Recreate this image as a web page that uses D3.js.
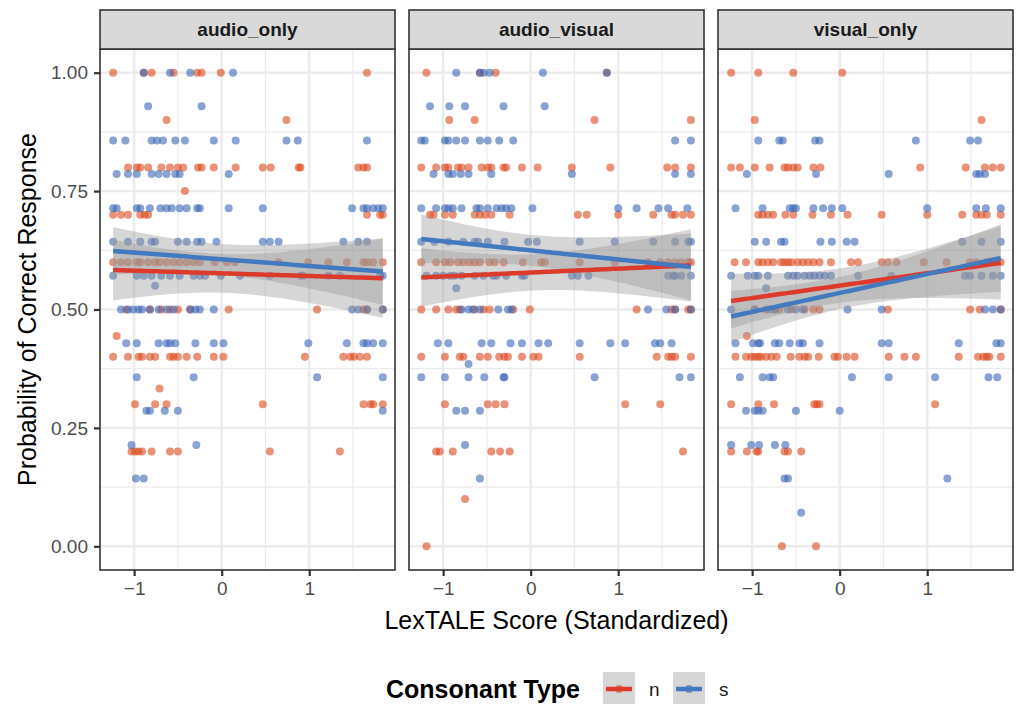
<!DOCTYPE html>
<html>
<head>
<meta charset="utf-8">
<script src="https://cdn.jsdelivr.net/npm/d3@7"></script>
<style>
  body { margin: 0; background: #fff; }
  svg { font-family: "Liberation Sans", Arial, Helvetica, sans-serif; }
</style>
</head>
<body>
<div class="chart"></div>
<script>
// Facets, groups and tick labels
const panels = ["audio_only", "audio_visual", "visual_only"];
const groups = ["n", "s"];
const xTicks = [-1, 0, 1];
const xMinor = [-0.5, 0.5, 1.5];
const yTicks = [0, 0.25, 0.5, 0.75, 1];
const yMinor = [0.125, 0.375, 0.625, 0.875];

// Each row: [proportion correct, [LexTALE scores of the participants at that value]]
const audioOnlyN = [
  [1.0, [-1.24, -0.89, -0.80, -0.55, -0.28, -0.23, -0.01, 1.66]],
  [0.9, [-0.63, 0.74]],
  [0.8, [-1.07, -0.97, -0.93, -0.84, -0.69, -0.59, -0.50, -0.44, -0.27, -0.23, -0.09, 0.16, 0.47, 0.56, 0.88, 0.90, 1.56, 1.62, 1.66]],
  [0.75, [-0.42]],
  [0.7, [-1.24, -1.15, -1.07, -0.93, -0.88, -0.84, 1.66, 1.81, 1.84]],
  [0.6, [-1.24, -1.15, -1.07, -0.97, -0.93, -0.84, -0.76, -0.71, -0.63, -0.55, -0.48, -0.40, -0.32, -0.25, -0.08, 0.06, 0.15, 0.65, 0.99, 1.22, 1.43, 1.62, 1.66, 1.73, 1.84]],
  [0.5, [-1.09, -0.82, -0.69, -0.59, -0.50, -0.36, 0.08, 1.09, 1.62, 1.66, 1.84]],
  [0.444, [-1.20]],
  [0.4, [-1.24, -1.07, -0.95, -0.91, -0.82, -0.76, -0.59, -0.55, -0.50, -0.40, -0.28, -0.09, 0.02, 0.95, 1.39, 1.47, 1.51, 1.58, 1.66]],
  [0.333, [-0.71]],
  [0.3, [-0.99, -0.76, -0.63, 0.47, 1.62, 1.70, 1.73, 1.84]],
  [0.2, [-1.03, -0.99, -0.95, -0.91, -0.80, -0.59, -0.50, 0.55, 1.35]]
];
const audioOnlyS = [
  [1.0, [-0.89, -0.59, -0.36, 0.13]],
  [0.929, [-0.84, -0.23]],
  [0.857, [-1.24, -1.10, -0.80, -0.74, -0.67, -0.53, -0.42, -0.09, 0.16, 0.74, 0.87, 1.66]],
  [0.786, [-1.20, -1.07, -0.97, -0.80, -0.72, -0.63, -0.53, -0.48, 0.08]],
  [0.714, [-1.24, -1.20, -0.97, -0.93, -0.82, -0.70, -0.63, -0.57, -0.48, -0.40, -0.28, -0.25, 0.08, 0.47, 1.49, 1.62, 1.66, 1.73, 1.79, 1.84]],
  [0.643, [-1.24, -1.07, -0.93, -0.80, -0.76, -0.50, -0.40, -0.28, -0.23, -0.06, 0.47, 0.55, 0.65, 1.39, 1.56, 1.66]],
  [0.571, [-1.24, -0.97, -0.89, -0.80, -0.69, -0.59, -0.48, -0.32, -0.25, -0.19, -0.01, 0.21, 0.55, 0.90, 0.93, 1.22, 1.35, 1.81, 1.84]],
  [0.55, [-0.76]],
  [0.5, [-1.15, -1.07, -1.01, -0.95, -0.91, -0.82, -0.72, -0.63, -0.55, -0.36, -0.30, -0.25, -0.09, 1.49, 1.56, 1.66, 1.84]],
  [0.429, [-1.09, -0.97, -0.72, -0.63, -0.59, -0.53, -0.30, -0.09, 0.02, 0.99, 1.43, 1.62, 1.66, 1.73, 1.84]],
  [0.357, [-0.97, -0.32, 1.09, 1.84]],
  [0.286, [-0.86, -0.82, -0.65, -0.50, 1.84]],
  [0.214, [-1.03, -0.29]],
  [0.143, [-0.98, -0.89]]
];
const audioVisualN = [
  [1.0, [-1.19, -0.58, -0.40, 0.87]],
  [0.9, [-0.93, -0.64, 0.73, 1.83]],
  [0.8, [-1.25, -1.08, -0.98, -0.94, -0.83, -0.79, -0.71, -0.56, -0.49, -0.45, -0.31, -0.28, -0.10, 0.08, 0.47, 0.91, 1.56, 1.65, 1.83]],
  [0.7, [-1.15, -1.11, -0.98, -0.89, -0.64, -0.58, -0.52, -0.45, -0.24, 0.54, 0.64, 1.00, 1.40, 1.61, 1.65, 1.74, 1.83]],
  [0.6, [-1.25, -1.08, -0.98, -0.92, -0.83, -0.77, -0.70, -0.64, -0.58, -0.47, -0.41, -0.31, -0.09, 0.12, 0.16, 0.56, 0.96, 1.34, 1.48, 1.57, 1.65, 1.72, 1.80, 1.83]],
  [0.5, [-1.25, -1.08, -0.94, -0.85, -0.81, -0.64, -0.54, -0.47, -0.20, -0.01, 1.21, 1.61, 1.65, 1.80, 1.83]],
  [0.4, [-1.25, -0.98, -0.81, -0.77, -0.58, -0.49, -0.36, -0.30, -0.26, -0.10, 0.03, 0.09, 0.56, 1.44, 1.57, 1.61, 1.65, 1.83]],
  [0.3, [-0.98, -0.49, -0.40, -0.30, 1.08, 1.48]],
  [0.2, [-1.08, -1.04, -0.89, -0.45, -0.35, -0.24, 1.74]],
  [0.1, [-0.75]],
  [0.0, [-1.19]]
];
const audioVisualS = [
  [1.0, [-0.85, -0.58, -0.54, -0.47, 0.14, 0.87]],
  [0.929, [-1.15, -0.93, -0.75, -0.31, 0.16]],
  [0.857, [-1.25, -1.21, -0.98, -0.94, -0.85, -0.75, -0.58, -0.49, -0.36, -0.20, 1.65, 1.83]],
  [0.786, [-1.11, -0.94, -0.89, -0.80, -0.71, -0.45, 0.47, 1.65, 1.83]],
  [0.714, [-1.25, -1.08, -0.98, -0.94, -0.89, -0.79, -0.62, -0.58, -0.49, -0.39, -0.33, -0.28, -0.22, 0.02, 1.00, 1.21, 1.46, 1.57, 1.79]],
  [0.643, [-1.25, -1.10, -0.94, -0.77, -0.64, -0.60, -0.49, -0.30, -0.03, 0.07, 0.56, 0.96, 1.40, 1.65, 1.80, 1.83]],
  [0.571, [-1.19, -1.08, -1.00, -0.92, -0.87, -0.79, -0.64, -0.54, -0.43, -0.39, -0.28, -0.10, -0.07, 0.47, 0.54, 0.66, 1.57, 1.63, 1.65, 1.72, 1.83]],
  [0.545, [-0.85]],
  [0.5, [-0.79, -0.71, -0.66, -0.58, -0.37, -0.26, -0.22, 1.34, 1.55, 1.65, 1.83]],
  [0.429, [-1.06, -0.94, -0.56, -0.45, -0.23, -0.10, 0.09, 0.20, 0.56, 0.91, 1.08, 1.42, 1.48, 1.61]],
  [0.385, [-0.71]],
  [0.357, [-1.25, -0.98, -0.71, -0.53, -0.31, -0.30, 0.73, 1.70, 1.83]],
  [0.286, [-0.85, -0.75, -0.58]],
  [0.214, [-0.75]],
  [0.143, [-0.58]]
];
const visualOnlyN = [
  [1.0, [-1.24, -0.93, -0.53, 0.03]],
  [0.9, [-0.97, 1.62]],
  [0.8, [-1.24, -1.14, -0.97, -0.80, -0.63, -0.59, -0.53, -0.48, -0.30, -0.22, 0.92, 1.44, 1.66, 1.75, 1.84]],
  [0.7, [-0.93, -0.88, -0.82, -0.76, -0.62, -0.53, -0.31, -0.10, 0.09, 0.48, 1.00, 1.40, 1.56, 1.62, 1.68, 1.84]],
  [0.6, [-1.20, -1.07, -0.93, -0.88, -0.82, -0.76, -0.67, -0.63, -0.59, -0.55, -0.48, -0.42, -0.36, -0.30, -0.23, -0.10, 0.13, 0.21, 0.48, 0.55, 0.65, 0.96, 1.22, 1.49, 1.56, 1.68, 1.79, 1.84]],
  [0.5, [-0.97, -0.84, -0.74, -0.69, -0.55, -0.40, -0.30, -0.23, 0.55, 1.49, 1.60, 1.84]],
  [0.444, [-1.06]],
  [0.4, [-1.19, -1.07, -1.01, -0.97, -0.93, -0.90, -0.84, -0.78, -0.72, -0.56, -0.46, -0.40, -0.36, -0.24, -0.06, -0.02, 0.08, 0.17, 0.56, 0.74, 0.87, 1.36, 1.58, 1.64, 1.68, 1.71, 1.84]],
  [0.3, [-1.24, -0.93, -0.75, -0.29, -0.26, -0.23, 1.09]],
  [0.2, [-1.24, -1.06, -0.95, -0.93, -0.63, -0.59, -0.44]],
  [0.0, [-0.66, -0.27]]
];
const visualOnlyS = [
  [0.857, [-0.93, -0.69, -0.65, -0.28, -0.23, 0.87, 1.49, 1.58]],
  [0.786, [-1.06, -0.27, 0.56, 1.56, 1.60, 1.66]],
  [0.714, [-1.19, -0.88, -0.57, -0.53, -0.50, -0.30, -0.19, -0.09, 0.03, 1.00, 1.56, 1.67, 1.84]],
  [0.643, [-0.97, -0.84, -0.67, -0.63, -0.22, -0.09, 0.08, 0.17, 1.40, 1.62, 1.84]],
  [0.571, [-1.24, -1.05, -0.97, -0.93, -0.82, -0.59, -0.53, -0.48, -0.40, -0.34, -0.29, -0.23, -0.17, -0.10, 0.21, 0.59, 1.43, 1.49, 1.62, 1.75, 1.84]],
  [0.545, [-0.84]],
  [0.5, [-1.24, -0.97, -0.80, -0.74, -0.59, -0.50, -0.42, 0.09, 0.48, 1.66, 1.75, 1.84]],
  [0.429, [-1.19, -0.99, -0.93, -0.91, -0.74, -0.69, -0.57, -0.46, -0.42, -0.23, 0.48, 0.56, 1.36, 1.79, 1.84]],
  [0.357, [-1.14, -0.88, -0.80, -0.76, 0.14, 0.56, 1.09, 1.70, 1.80]],
  [0.286, [-1.07, -0.97, -0.93, -0.88, -0.50, 0.00]],
  [0.214, [-1.24, -1.01, -0.92, -0.74, -0.62]],
  [0.143, [-0.63, -0.59, 1.23]],
  [0.071, [-0.44]]
];

const rawData = {
  audio_only: { n: audioOnlyN, s: audioOnlyS },
  audio_visual: { n: audioVisualN, s: audioVisualS },
  visual_only: { n: visualOnlyN, s: visualOnlyS }
};

const pointColor = { n: "#dc4a1e", s: "#3a66b5" };
const lineColor = { n: "#dc3a2b", s: "#4279bf" };

const W = 1016, H = 704;
const panelLeft = [100, 409, 718];
const panelW = 295;
const stripTop = 10, panelTop = 49, panelBottom = 570;
const tickFont = 19;

const svg = d3.select(".chart").append("svg")
  .attr("width", W).attr("height", H);

const y = d3.scaleLinear().domain([-0.05, 1.05]).range([panelBottom, panelTop]);

// linear fit with 95% band, like geom_smooth(method = "lm")
function lmFit(pts) {
  const n = pts.length;
  const mx = d3.mean(pts, d => d[0]), my = d3.mean(pts, d => d[1]);
  const sxx = d3.sum(pts, d => (d[0] - mx) ** 2);
  const sxy = d3.sum(pts, d => (d[0] - mx) * (d[1] - my));
  const b = sxy / sxx, a = my - b * mx;
  const rss = d3.sum(pts, d => (d[1] - a - b * d[0]) ** 2);
  const sigma = Math.sqrt(rss / (n - 2));
  const t = 1.97;
  const [x0, x1] = d3.extent(pts, d => d[0]);
  return d3.range(81).map(i => {
    const xv = x0 + (x1 - x0) * i / 80;
    const fit = a + b * xv;
    const se = sigma * Math.sqrt(1 / n + (xv - mx) ** 2 / sxx);
    return { x: xv, y: fit, lo: fit - t * se, hi: fit + t * se };
  });
}

function flatten(rows) {
  const pts = [];
  rows.forEach(([yv, xs]) => xs.forEach(xv => pts.push([xv, yv])));
  return pts;
}

panels.forEach((p, i) => {
  const x = d3.scaleLinear().domain([-1.39, 1.98]).range([panelLeft[i], panelLeft[i] + panelW]);
  const g = svg.append("g");

  // panel background + grid
  g.append("rect").attr("x", panelLeft[i]).attr("y", panelTop)
    .attr("width", panelW).attr("height", panelBottom - panelTop).attr("fill", "#fff");
  g.selectAll(".xminor").data(xMinor).enter().append("line")
    .attr("x1", d => x(d)).attr("x2", d => x(d)).attr("y1", panelTop).attr("y2", panelBottom)
    .attr("stroke", "#ebebeb").attr("stroke-width", 1.2);
  g.selectAll(".yminor").data(yMinor).enter().append("line")
    .attr("x1", panelLeft[i]).attr("x2", panelLeft[i] + panelW).attr("y1", d => y(d)).attr("y2", d => y(d))
    .attr("stroke", "#ebebeb").attr("stroke-width", 1.2);
  g.selectAll(".xmajor").data(xTicks).enter().append("line")
    .attr("x1", d => x(d)).attr("x2", d => x(d)).attr("y1", panelTop).attr("y2", panelBottom)
    .attr("stroke", "#ebebeb").attr("stroke-width", 2.4);
  g.selectAll(".ymajor").data(yTicks).enter().append("line")
    .attr("x1", panelLeft[i]).attr("x2", panelLeft[i] + panelW).attr("y1", d => y(d)).attr("y2", d => y(d))
    .attr("stroke", "#ebebeb").attr("stroke-width", 2.4);

  // points
  groups.forEach(k => {
    g.append("g").selectAll("circle").data(flatten(rawData[p][k])).enter().append("circle")
      .attr("cx", d => x(d[0])).attr("cy", d => y(d[1])).attr("r", 4)
      .attr("fill", pointColor[k]).attr("fill-opacity", 0.6);
  });

  // smooth bands then lines
  const fits = groups.map(k => ({ k, f: lmFit(flatten(rawData[p][k])) }));
  fits.forEach(({ f }) => {
    g.append("path").datum(f)
      .attr("d", d3.area().x(d => x(d.x)).y0(d => y(d.lo)).y1(d => y(d.hi)))
      .attr("fill", "#999").attr("fill-opacity", 0.4);
  });
  fits.forEach(({ k, f }) => {
    g.append("path").datum(f)
      .attr("d", d3.line().x(d => x(d.x)).y(d => y(d.y)))
      .attr("fill", "none").attr("stroke", lineColor[k]).attr("stroke-width", 4.5);
  });

  // border
  g.append("rect").attr("x", panelLeft[i]).attr("y", panelTop)
    .attr("width", panelW).attr("height", panelBottom - panelTop)
    .attr("fill", "none").attr("stroke", "#333").attr("stroke-width", 1.6);

  // strip
  g.append("rect").attr("x", panelLeft[i]).attr("y", stripTop)
    .attr("width", panelW).attr("height", panelTop - stripTop)
    .attr("fill", "#d9d9d9").attr("stroke", "#333").attr("stroke-width", 1.6);
  g.append("text").attr("x", panelLeft[i] + panelW / 2).attr("y", (stripTop + panelTop) / 2)
    .attr("text-anchor", "middle").attr("dominant-baseline", "central")
    .attr("font-size", 19).attr("font-weight", "bold").attr("fill", "#1a1a1a").text(p);

  // x axis
  const xa = g.append("g").attr("transform", `translate(0,${panelBottom})`)
    .call(d3.axisBottom(x).tickValues(xTicks).tickSize(6).tickPadding(6)
      .tickFormat(d => d < 0 ? "\u2212" + Math.abs(d) : d));
  xa.select(".domain").remove();
  xa.selectAll("line").attr("stroke", "#333").attr("stroke-width", 2.2);
  xa.selectAll("text").attr("font-size", tickFont).attr("fill", "#4d4d4d")
    .attr("font-family", "Liberation Sans, Arial, sans-serif");

  if (i === 0) {
    const ya = g.append("g").attr("transform", `translate(${panelLeft[0]},0)`)
      .call(d3.axisLeft(y).tickValues(yTicks).tickSize(6).tickPadding(6).tickFormat(d3.format(".2f")));
    ya.select(".domain").remove();
    ya.selectAll("line").attr("stroke", "#333").attr("stroke-width", 2.2);
    ya.selectAll("text").attr("font-size", tickFont).attr("fill", "#4d4d4d")
      .attr("font-family", "Liberation Sans, Arial, sans-serif");
  }
});

// axis titles
svg.append("text").attr("x", (panelLeft[0] + panelLeft[2] + panelW) / 2).attr("y", 620)
  .attr("text-anchor", "middle").attr("dominant-baseline", "central")
  .attr("font-size", 25).text("LexTALE Score (Standardized)");
svg.append("text")
  .attr("transform", `translate(27,${(panelTop + panelBottom) / 2}) rotate(-90)`)
  .attr("text-anchor", "middle").attr("dominant-baseline", "central")
  .attr("font-size", 25).text("Probability of Correct Response");

// legend
const legend = svg.append("g");
legend.append("text").attr("x", 386).attr("y", 689).attr("dominant-baseline", "central")
  .attr("font-size", 25).attr("font-weight", "bold").text("Consonant Type");
groups.forEach((k, j) => {
  const kx = 603 + j * 70;
  legend.append("rect").attr("x", kx).attr("y", 672).attr("width", 32).attr("height", 34)
    .attr("fill", "#999").attr("fill-opacity", 0.4);
  legend.append("circle").attr("cx", kx + 16).attr("cy", 689).attr("r", 4)
    .attr("fill", pointColor[k]).attr("fill-opacity", 0.6);
  legend.append("line").attr("x1", kx + 3).attr("x2", kx + 29).attr("y1", 689).attr("y2", 689)
    .attr("stroke", lineColor[k]).attr("stroke-width", 4.5);
  legend.append("text").attr("x", kx + 46).attr("y", 689).attr("dominant-baseline", "central")
    .attr("font-size", 19).attr("fill", "#1a1a1a").text(k);
});
</script>
</body>
</html>
